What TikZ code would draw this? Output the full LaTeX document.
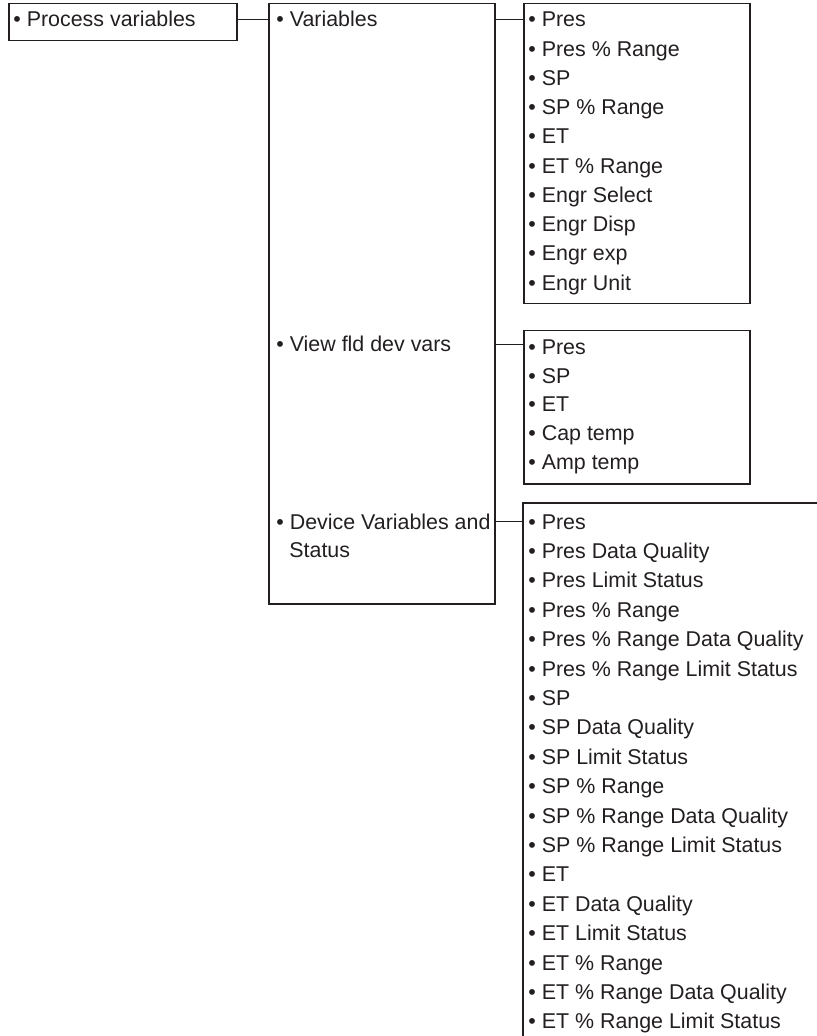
\documentclass[tikz,border=0pt]{standalone}
\usepackage{fontspec}
\setmainfont{Liberation Sans}
\usetikzlibrary{positioning}
\definecolor{ink}{HTML}{231F20}

\begin{document}
\begin{tikzpicture}[x=0.5pt,y=-0.5pt,
  box/.style={draw=ink,line width=0.75pt,inner sep=0pt,anchor=north west},
  item/.style={anchor=base west,inner sep=0pt,text=ink,font=\fontsize{10.7}{13.5}\selectfont},
  link/.style={draw=ink,line width=0.75pt}]
\useasboundingbox (0,0) rectangle (817,1036);
% boxes
\node[box,minimum width=114pt,minimum height=18.5pt] (pv) at (8,3) {};
\node[box,minimum width=113pt,minimum height=300pt] (grp) at (268,3) {};
\node[box,minimum width=113pt,minimum height=150pt] (vlist) at (523,3) {};
\node[box,minimum width=113pt,minimum height=76.5pt] (flist) at (523,330) {};
\coordinate (dlist) at (523,503);
\coordinate (dtop) at (817,503);
\coordinate (dbot) at (523,1036);
\draw[link] (dtop) -- (dlist) -- (dbot);
% texts
\node[item] (pvt) at (13,27) {• Process variables};
\node[item] (vars) at (276,27) {• Variables};
\node[item] (view) at (276,352) {• View fld dev vars};
\node[item] (dev) at (276,529) {• Device Variables and};
\node[item] (devb) at (289,557) {Status};
\foreach \t [count=\i from 0] in {Pres,Pres \% Range,SP,SP \% Range,ET,ET \% Range,Engr Select,Engr Disp,Engr exp,Engr Unit}
  \node[item] (v\i) at (528,27+29.25*\i) {• \t};
\foreach \t [count=\i from 0] in {Pres,SP,ET,Cap temp,Amp temp}
  \node[item] (f\i) at (528,355+28.5*\i) {• \t};
\foreach \t [count=\i from 0] in {Pres,Pres Data Quality,Pres Limit Status,Pres \% Range,Pres \% Range Data Quality,Pres \% Range Limit Status,SP,SP Data Quality,SP Limit Status,SP \% Range,SP \% Range Data Quality,SP \% Range Limit Status,ET,ET Data Quality,ET Limit Status,ET \% Range,ET \% Range Data Quality,ET \% Range Limit Status}
  \node[item] (d\i) at (528,529+29.4*\i) {• \t};
% connectors
\draw[link] (vars.west -| pv.east) -- (vars.west -| grp.west);
\draw[link] (vars.west -| grp.east) -- (vars.west -| vlist.west);
\draw[link] (view.west -| grp.east) -- (view.west -| flist.west);
\draw[link] (dev.west -| grp.east) -- (dev.west -| dlist);
\end{tikzpicture}
\end{document}
